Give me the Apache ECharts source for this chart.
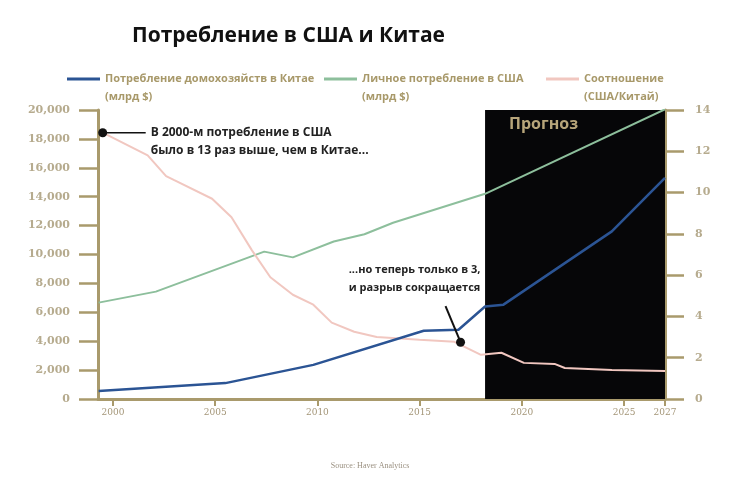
<!DOCTYPE html>
<html><head><meta charset="utf-8">
<script src="https://cdn.jsdelivr.net/npm/echarts@6/dist/echarts.min.js"></script>
<style>html,body{margin:0;padding:0;background:#fff}#c{width:740px;height:493px}</style>
</head><body><div id="c"></div>
<script>
// ---- data ----
const xTickYears = [2000, 2005, 2010, 2015, 2020, 2025, 2027];
const chinaYears  = [1999.3, 2005.5, 2009.8, 2015.2, 2016.9, 2018.2, 2019.1, 2024.4, 2027];
const chinaValues = [560, 1100, 2360, 4720, 4790, 6400, 6530, 11600, 15300];
const usYears  = [1999.3, 2002.1, 2007.4, 2008.8, 2010.8, 2012.3, 2013.7, 2018.2, 2027];
const usValues = [6670, 7430, 10200, 9800, 10900, 11400, 12200, 14200, 20050];
const ratioYears  = [1999.5, 2001.7, 2002.6, 2003.0, 2004.85, 2005.8, 2006.8, 2007.7, 2008.8, 2009.8, 2010.7, 2011.8, 2012.9, 2015.0, 2016.7, 2018.0, 2019.0, 2020.1, 2021.6, 2022.1, 2024.4, 2027];
const ratioValues = [12.9, 11.8, 10.8, 10.6, 9.7, 8.8, 7.2, 5.9, 5.05, 4.57, 3.7, 3.26, 3.0, 2.87, 2.77, 2.14, 2.24, 1.75, 1.7, 1.5, 1.41, 1.36];
const forecastRange = [2018.2, 2027];
const seriesNames = ['Потребление домохозяйств в Китае', 'Личное потребление в США', 'Соотношение'];
const seriesSubs  = ['(млрд $)', '(млрд $)', '(США/Китай)'];
const note1Point = [1999.5, 12.9];
const note2Point = [2017.0, 2.75];
const note1Text = 'В 2000-м потребление в США\nбыло в 13 раз выше, чем в Китае...';
const note2Text = '...но теперь только в 3,\nи разрыв сокращается';

const tan = '#a99a6c';
const zip = (a, b) => a.map((v, i) => [v, b[i]]);
const chart = echarts.init(document.getElementById('c'));

const legendStyle = {
  itemWidth: 33, itemHeight: 3, itemGap: 0, padding: 0, icon: 'rect',
  selectedMode: false,
  formatter: n => ' \n' + n + '\n' + seriesSubs[seriesNames.indexOf(n)],
  textStyle: { color: '#a8996a', fontWeight: 'bold', fontSize: 11, fontFamily: 'Open Sans', lineHeight: 18 }
};

chart.setOption({
  animation: false,
  backgroundColor: '#fff',
  title: [
    { text: 'Потребление в США и Китае', left: 127, top: 21,
      textStyle: { fontSize: 21, fontWeight: 'bold', fontFamily: 'Open Sans', color: '#111' } },
    { text: 'Source: Haver Analytics', left: 'center', top: 457,
      textStyle: { fontSize: 8, fontWeight: 'normal', fontFamily: 'Liberation Serif', color: '#9a9080' } }
  ],
  legend: [
    Object.assign({ left: 67, top: 52, data: [seriesNames[0]] }, legendStyle),
    Object.assign({ left: 324, top: 52, data: [seriesNames[1]] }, legendStyle),
    Object.assign({ left: 546, top: 52, data: [seriesNames[2]] }, legendStyle)
  ],
  grid: { left: 98, right: 75, top: 110, bottom: 94 },
  xAxis: {
    type: 'value', min: 1999.27, max: 2027,
    splitLine: { show: false },
    axisLine: { lineStyle: { color: tan, width: 3 } },
    axisTick: { customValues: xTickYears, length: 7, lineStyle: { color: tan, width: 2 } },
    axisLabel: { customValues: xTickYears, formatter: v => String(v), margin: 9, fontSize: 9,
      fontFamily: 'DejaVu Serif', color: '#a39577' }
  },
  yAxis: [
    { type: 'value', min: 0, max: 20000, interval: 2000, position: 'left',
      splitLine: { show: false },
      axisLine: { show: true, lineStyle: { color: tan, width: 3 } },
      axisTick: { show: true, length: 19, lineStyle: { color: tan, width: 2.5 } },
      axisLabel: { margin: 28, fontSize: 11, fontWeight: 'bold', fontFamily: 'DejaVu Serif', color: '#b6ab8e',
        formatter: v => v.toLocaleString('en-US') } },
    { type: 'value', min: 0, max: 14, interval: 2, position: 'right',
      splitLine: { show: false },
      axisLine: { show: true, lineStyle: { color: tan, width: 3 } },
      axisTick: { show: true, length: 19, lineStyle: { color: tan, width: 2.5 } },
      axisLabel: { margin: 30, fontSize: 11, fontWeight: 'bold', fontFamily: 'DejaVu Serif', color: '#b6ab8e' } }
  ],
  series: [
    { name: 'forecast', type: 'line', data: [], z: 1, silent: true,
      markArea: { silent: true,
        itemStyle: { color: '#060608' },
        label: { show: true, position: [24, 6], formatter: 'Прогноз', color: '#b7a57a',
          fontSize: 16, fontWeight: 'bold', fontFamily: 'Open Sans' },
        data: [[{ xAxis: forecastRange[0], yAxis: 20200 }, { xAxis: forecastRange[1], yAxis: 0 }]] } },
    { name: seriesNames[0], type: 'line', yAxisIndex: 0, data: zip(chinaYears, chinaValues), symbol: 'none', z: 4,
      lineStyle: { color: '#2b5494', width: 2.5 }, itemStyle: { color: '#2b5494' } },
    { name: seriesNames[1], type: 'line', yAxisIndex: 0, data: zip(usYears, usValues), symbol: 'none', z: 3,
      lineStyle: { color: '#8dbf9c', width: 2 }, itemStyle: { color: '#8dbf9c' } },
    { name: seriesNames[2], type: 'line', yAxisIndex: 1, data: zip(ratioYears, ratioValues), symbol: 'none', z: 3,
      lineStyle: { color: '#f1c7c0', width: 2 }, itemStyle: { color: '#f1c7c0' } }
  ]
});

const p1 = chart.convertToPixel({ xAxisIndex: 0, yAxisIndex: 1 }, note1Point);
const p2 = chart.convertToPixel({ xAxisIndex: 0, yAxisIndex: 1 }, note2Point);
const noteFont = { fontSize: 12, fontWeight: 'bold', fontFamily: 'Open Sans', fill: '#222', lineHeight: 18 };
chart.setOption({
  graphic: [
    { type: 'line', shape: { x1: p1[0], y1: p1[1], x2: p1[0] + 43, y2: p1[1] }, style: { stroke: '#111', lineWidth: 1.5 }, z: 10 },
    { type: 'circle', shape: { cx: p1[0], cy: p1[1], r: 4.5 }, style: { fill: '#111' }, z: 11 },
    { type: 'text', x: p1[0] + 48, y: p1[1] - 9, style: Object.assign({ text: note1Text, align: 'left', verticalAlign: 'top' }, noteFont), z: 10 },
    { type: 'line', shape: { x1: p2[0], y1: p2[1], x2: p2[0] - 15, y2: p2[1] - 36 }, style: { stroke: '#111', lineWidth: 2 }, z: 10 },
    { type: 'circle', shape: { cx: p2[0], cy: p2[1], r: 4.5 }, style: { fill: '#111' }, z: 11 },
    { type: 'text', x: p2[0] - 46, y: p2[1] - 81, style: Object.assign({ text: note2Text, align: 'center', verticalAlign: 'top' }, noteFont, { fontSize: 11 }), z: 10 }
  ]
});
</script>
</body></html>
